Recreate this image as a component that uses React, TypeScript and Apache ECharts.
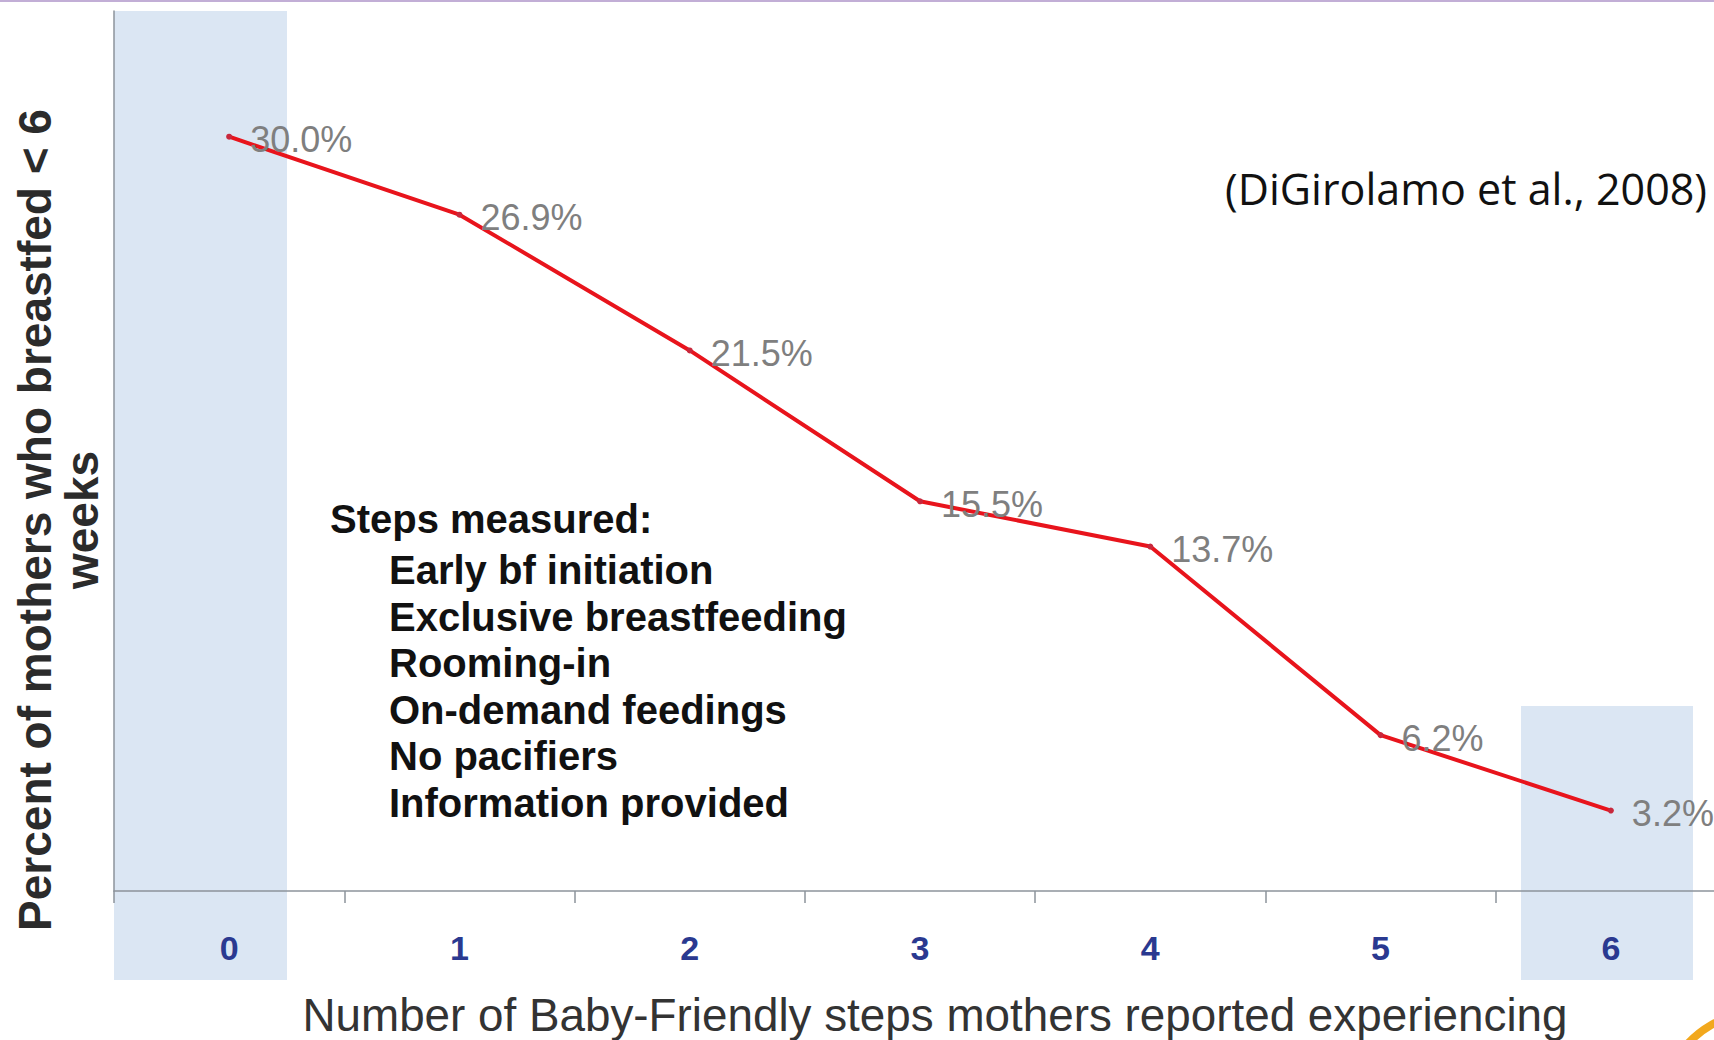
import React, { useEffect, useRef } from "react";
import * as echarts from "echarts";

// Number of Baby-Friendly steps experienced (x categories)
const stepCounts = ["0", "1", "2", "3", "4", "5", "6"];
// Percent of mothers who stopped breastfeeding before 6 weeks
const pctStoppedBefore6Weeks = [30.0, 26.9, 21.5, 15.5, 13.7, 6.2, 3.2];
// Steps listed in the inset note
const stepsMeasured = [
  "Early bf initiation",
  "Exclusive breastfeeding",
  "Rooming-in",
  "On-demand feedings",
  "No pacifiers",
  "Information provided",
];
const yTitle = "Percent of mothers who breastfed < 6\nweeks";
const xTitle = "Number of Baby-Friendly steps mothers reported experiencing";
const citation = "(DiGirolamo et al., 2008)";

const SANS = "'Liberation Sans', Arial, sans-serif";
const HUMANIST = "'Open Sans', Lato, sans-serif";
const NOTE_LINE_HEIGHT = 46.5;

export default function App() {
  const ref = useRef<HTMLDivElement>(null);

  useEffect(() => {
    if (!ref.current) return;
    const chart = echarts.init(ref.current, undefined, { renderer: "svg" });

    chart.setOption({
      animation: false,
      backgroundColor: "#ffffff",
      // plot area runs slightly past the right edge of the visible page
      grid: { left: 114, top: 11, width: 1612, height: 880, containLabel: false },
      xAxis: {
        type: "category",
        data: stepCounts,
        boundaryGap: true,
        axisLine: { show: true, lineStyle: { color: "#8d939b", width: 1.5 } },
        axisTick: { show: true, length: 12, lineStyle: { color: "#8d939b", width: 1.5 } },
        axisLabel: {
          margin: 40,
          color: "#2a3990",
          fontSize: 34,
          fontWeight: "bold",
          fontFamily: SANS,
        },
      },
      yAxis: {
        type: "value",
        min: 0,
        max: 35,
        axisLine: { show: true, lineStyle: { color: "#8d939b", width: 1.5 } },
        axisTick: { show: false },
        axisLabel: { show: false },
        splitLine: { show: false },
      },
      series: [
        {
          type: "line",
          data: pctStoppedBefore6Weeks,
          z: 5,
          symbol: "circle",
          symbolSize: 6,
          showSymbol: true,
          lineStyle: { color: "#e8141c", width: 4 },
          itemStyle: { color: "#c8283c" },
          label: {
            show: true,
            position: "right",
            distance: 18,
            offset: [0, 3],
            formatter: (p: any) => `${Number(p.value).toFixed(1)}%`,
            color: "#7f7f7f",
            fontSize: 36,
            fontFamily: SANS,
          },
        },
      ],
      graphic: [
        // thin slide border along the top
        { type: "rect", z: 10, shape: { x: 0, y: 0, width: 1740, height: 2 }, style: { fill: "#c2aed6" } },
        // highlighted columns for 0 and 6 steps
        { type: "rect", z: -1, shape: { x: 114, y: 11, width: 173, height: 969 }, style: { fill: "#dbe6f3" } },
        { type: "rect", z: -1, shape: { x: 1521, y: 706, width: 172, height: 274 }, style: { fill: "#dbe6f3" } },
        // rotated y-axis title
        {
          type: "text",
          x: 58,
          y: 520,
          rotation: Math.PI / 2,
          style: {
            text: yTitle,
            fill: "#2b2b2b",
            font: `bold 46px ${SANS}`,
            textAlign: "center",
            textVerticalAlign: "middle",
            lineHeight: 47,
          },
        },
        // x-axis title
        {
          type: "text",
          x: 935,
          y: 1015,
          style: {
            text: xTitle,
            fill: "#333333",
            font: `45.8px ${SANS}`,
            textAlign: "center",
            textVerticalAlign: "middle",
          },
        },
        // citation
        {
          type: "text",
          x: 1707,
          y: 188,
          style: {
            text: citation,
            fill: "#111111",
            font: `43px ${HUMANIST}`,
            textAlign: "right",
            textVerticalAlign: "middle",
          },
        },
        // inset note heading
        {
          type: "text",
          x: 330,
          y: 519,
          style: {
            text: "Steps measured:",
            fill: "#111111",
            font: `bold 40px ${SANS}`,
            textVerticalAlign: "middle",
            lineHeight: 46,
          },
        },
        // inset note list, one step per line
        {
          type: "text",
          x: 389,
          y: 570 - NOTE_LINE_HEIGHT / 2,
          style: {
            text: stepsMeasured.join("\n"),
            fill: "#111111",
            font: `bold 40px ${SANS}`,
            textVerticalAlign: "top",
            lineHeight: NOTE_LINE_HEIGHT,
          },
        },
        // corner ornament
        {
          type: "circle",
          z: 10,
          shape: { cx: 1760, cy: 1110, r: 98 },
          style: { fill: "none", stroke: "#f2a81d", lineWidth: 8 },
        },
      ],
    });

    return () => chart.dispose();
  }, []);

  return (
    <div
      style={{
        position: "fixed",
        left: 0,
        top: 0,
        width: 1714,
        height: 1040,
        overflow: "hidden",
        background: "#fff",
      }}
    >
      <div ref={ref} style={{ width: 1740, height: 1040 }} />
    </div>
  );
}
